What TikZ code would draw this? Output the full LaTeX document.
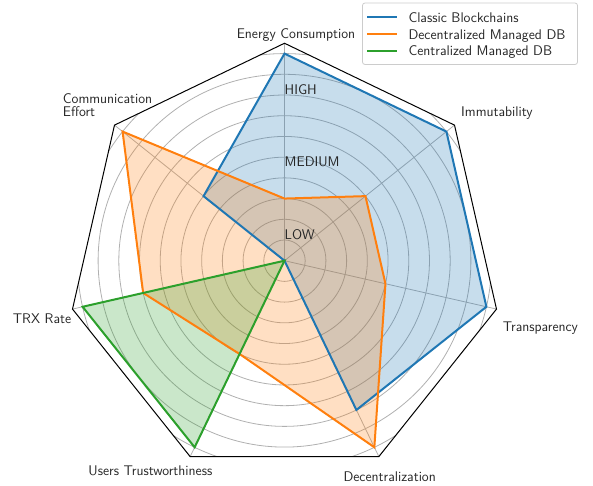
\documentclass[tikz,border=0pt]{standalone}
\definecolor{tblue}{HTML}{1F77B4}
\definecolor{torange}{HTML}{FF7F0E}
\definecolor{tgreen}{HTML}{2CA02C}
\definecolor{gridc}{HTML}{B0B0B0}
\definecolor{txt}{HTML}{262626}
\definecolor{legc}{HTML}{CCCCCC}
\begin{document}
\begin{tikzpicture}[x=1pt,y=1pt,
  gridline/.style={gridc, line width=0.8pt},
  frameline/.style={black, line width=1pt, line join=miter},
  series/.style={line width=2pt, line join=miter},
  lbl/.style={font=\sffamily\fontsize{14}{16}\selectfont, text=txt, inner sep=0pt},
  legbox/.style={draw=legc, line width=0.8pt, fill=white, fill opacity=0.8, rounded corners=2.5pt}]
\useasboundingbox (-284.5,-225.3) rectangle (308.5,260.7);
\def\u{20.71}
\coordinate (O) at (0,0);
\foreach \k in {0,...,6} \coordinate (F\k) at ({90-\k*360/7}:{10.5*\u});
% grid, clipped to the frame
\begin{scope}
  \clip (F0) -- (F1) -- (F2) -- (F3) -- (F4) -- (F5) -- (F6) -- cycle;
  \foreach \r in {1,...,10} \draw[gridline] (O) circle ({\r*\u});
\end{scope}
\foreach \k in {0,...,6} \draw[gridline] (O) -- (F\k);
\draw[frameline] (F0) -- (F1) -- (F2) -- (F3) -- (F4) -- (F5) -- (F6) -- cycle;
% data
\foreach \v [count=\k from 0] in {10,10,10,8,0,0,5} \coordinate (B\k) at ({90-\k*360/7}:{\v*\u});
\foreach \v [count=\k from 0] in {3,5,5,10,5,7,10} \coordinate (R\k) at ({90-\k*360/7}:{\v*\u});
\foreach \v [count=\k from 0] in {0,0,0,0,10,10,0} \coordinate (G\k) at ({90-\k*360/7}:{\v*\u});
\fill[tblue, fill opacity=0.25] (B0) -- (B1) -- (B2) -- (B3) -- (B4) -- (B5) -- (B6) -- cycle;
\fill[torange, fill opacity=0.25] (R0) -- (R1) -- (R2) -- (R3) -- (R4) -- (R5) -- (R6) -- cycle;
\fill[tgreen, fill opacity=0.25] (G0) -- (G1) -- (G2) -- (G3) -- (G4) -- (G5) -- (G6) -- cycle;
\draw[series, tblue] (B0) -- (B1) -- (B2) -- (B3) -- (B4) -- (B5) -- (B6) -- cycle;
\draw[series, torange] (R0) -- (R1) -- (R2) -- (R3) -- (R4) -- (R5) -- (R6) -- cycle;
\draw[series, tgreen] (G0) -- (G1) -- (G2) -- (G3) -- (G4) -- (G5) -- (G6) -- cycle;
% level labels
\node[lbl, anchor=base west] (high) at (0,165.7) {HIGH};
\node[lbl, anchor=base west] (med) at (0,93.7) {MEDIUM};
\node[lbl, anchor=base west] (low) at (0,20.7) {LOW};
% axis labels
\node[lbl, anchor=base] (l0) at (11.5,222.4) {Energy Consumption};
\node[lbl, anchor=base west] (l1) at (176.5,143.7) {Immutability};
\node[lbl, anchor=base west] (l2) at (218.2,-71) {Transparency};
\node[lbl, anchor=base west] (l3) at (58.8,-221) {Decentralization};
\node[lbl, anchor=base west] (l4) at (-196.2,-214.3) {Users Trustworthiness};
\node[lbl, anchor=base west] (l5) at (-271.8,-63.3) {TRX Rate};
\node[lbl, anchor=base west] (l6a) at (-221.8,156.7) {Communication};
\node[lbl, anchor=base west] (l6b) at (-221.8,144) {Effort};
% legend
\draw[legbox] (78,257.7) rectangle (293,196.2);
\coordinate (a1) at (82.5,244); \coordinate (b1) at (112.5,244);
\coordinate (a2) at (82.5,227); \coordinate (b2) at (112.5,227);
\coordinate (a3) at (82.5,210); \coordinate (b3) at (112.5,210);
\draw[series, tblue] (a1) -- (b1);
\draw[series, torange] (a2) -- (b2);
\draw[series, tgreen] (a3) -- (b3);
\node[lbl, anchor=base west] (t1) at (123.8,238) {Classic Blockchains};
\node[lbl, anchor=base west] (t2) at (123.8,221.4) {Decentralized Managed DB};
\node[lbl, anchor=base west] (t3) at (123.8,204.7) {Centralized Managed DB};
\end{tikzpicture}
\end{document}
